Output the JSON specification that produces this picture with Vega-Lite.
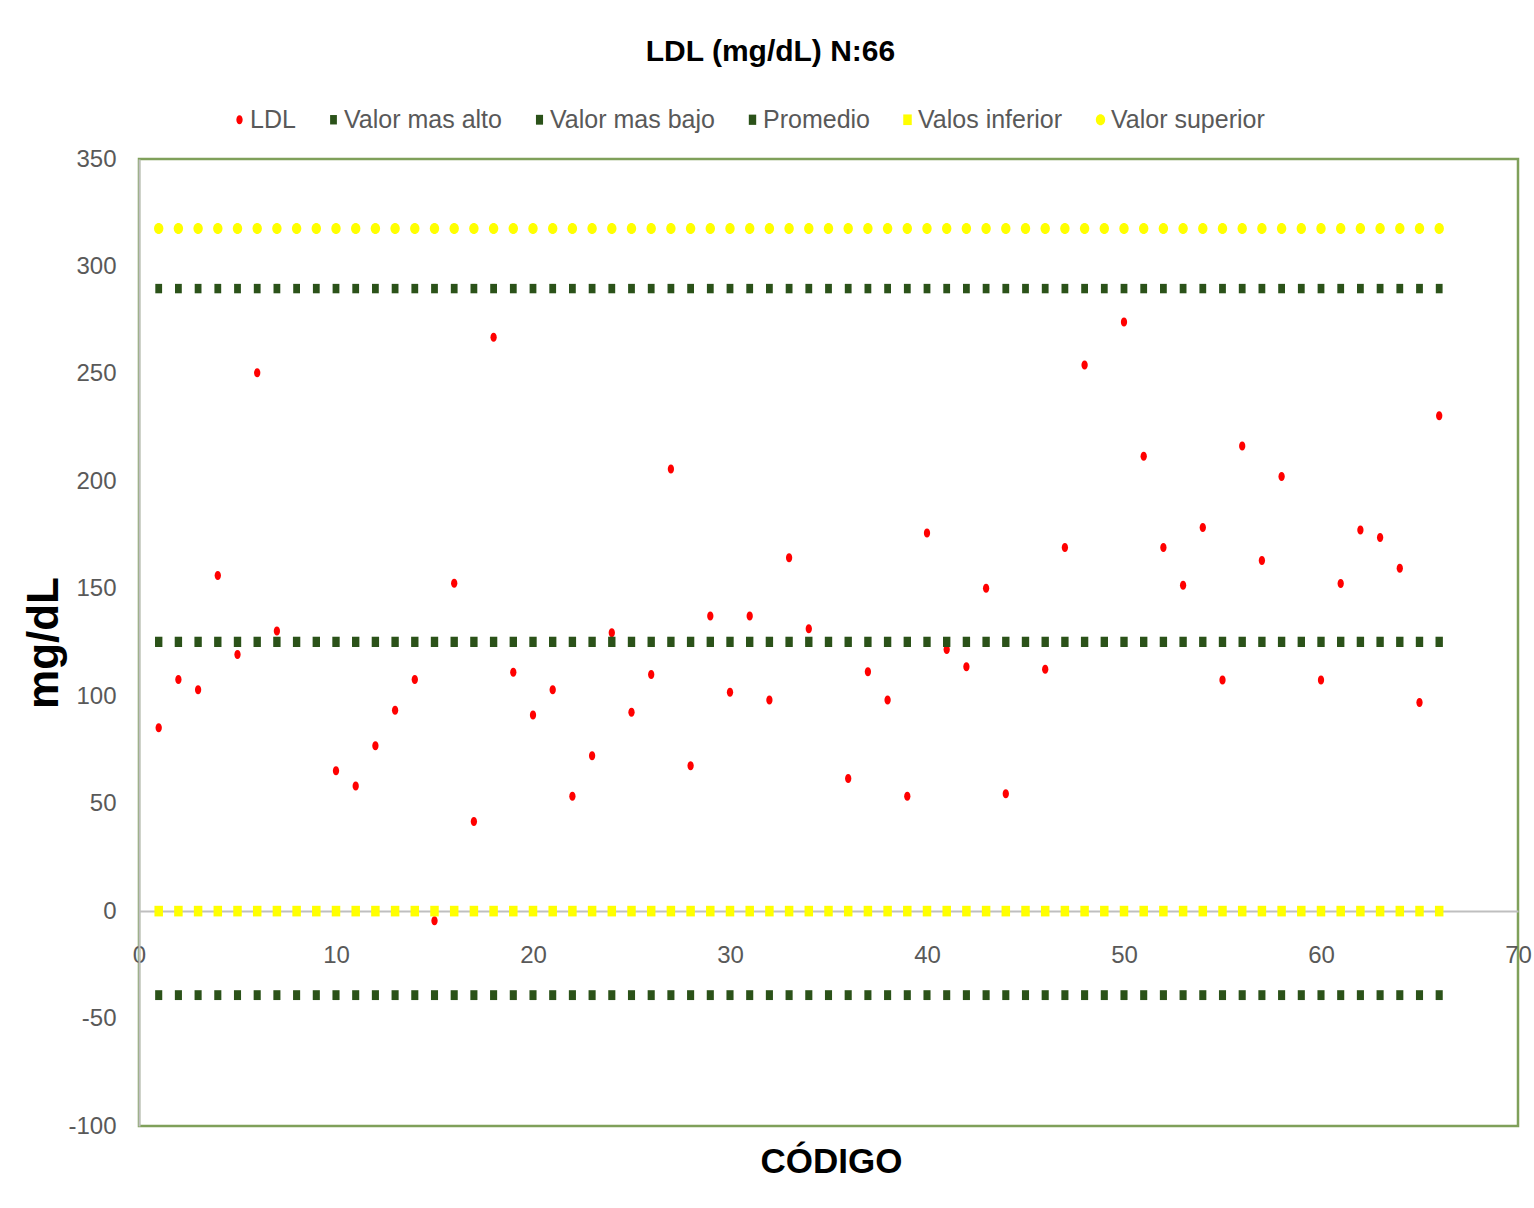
{
  "$schema": "https://vega.github.io/schema/vega-lite/v6.json",
  "width": 1379,
  "height": 967,
  "autosize": {"type": "none"},
  "padding": {"left": 139, "top": 159, "right": 16, "bottom": 82},
  "background": "white",
  "title": {
    "text": "LDL (mg/dL) N:66",
    "font": "Liberation Sans, Arial, sans-serif",
    "fontSize": 30,
    "fontWeight": "bold",
    "color": "#000000",
    "anchor": "middle",
    "frame": "group",
    "baseline": "bottom",
    "dx": -58,
    "offset": 10
  },
  "data": {
    "values": [
      {"codigo": 1, "LDL": 85.3, "Valor mas alto": 289.7, "Valor mas bajo": -39.1, "Promedio": 125.3, "Valos inferior": 0, "Valor superior": 317.7},
      {"codigo": 2, "LDL": 107.8, "Valor mas alto": 289.7, "Valor mas bajo": -39.1, "Promedio": 125.3, "Valos inferior": 0, "Valor superior": 317.7},
      {"codigo": 3, "LDL": 103.0, "Valor mas alto": 289.7, "Valor mas bajo": -39.1, "Promedio": 125.3, "Valos inferior": 0, "Valor superior": 317.7},
      {"codigo": 4, "LDL": 156.2, "Valor mas alto": 289.7, "Valor mas bajo": -39.1, "Promedio": 125.3, "Valos inferior": 0, "Valor superior": 317.7},
      {"codigo": 5, "LDL": 119.4, "Valor mas alto": 289.7, "Valor mas bajo": -39.1, "Promedio": 125.3, "Valos inferior": 0, "Valor superior": 317.7},
      {"codigo": 6, "LDL": 250.5, "Valor mas alto": 289.7, "Valor mas bajo": -39.1, "Promedio": 125.3, "Valos inferior": 0, "Valor superior": 317.7},
      {"codigo": 7, "LDL": 130.4, "Valor mas alto": 289.7, "Valor mas bajo": -39.1, "Promedio": 125.3, "Valos inferior": 0, "Valor superior": 317.7},
      {"codigo": 8, "LDL": null, "Valor mas alto": 289.7, "Valor mas bajo": -39.1, "Promedio": 125.3, "Valos inferior": 0, "Valor superior": 317.7},
      {"codigo": 9, "LDL": null, "Valor mas alto": 289.7, "Valor mas bajo": -39.1, "Promedio": 125.3, "Valos inferior": 0, "Valor superior": 317.7},
      {"codigo": 10, "LDL": 65.3, "Valor mas alto": 289.7, "Valor mas bajo": -39.1, "Promedio": 125.3, "Valos inferior": 0, "Valor superior": 317.7},
      {"codigo": 11, "LDL": 58.2, "Valor mas alto": 289.7, "Valor mas bajo": -39.1, "Promedio": 125.3, "Valos inferior": 0, "Valor superior": 317.7},
      {"codigo": 12, "LDL": 76.9, "Valor mas alto": 289.7, "Valor mas bajo": -39.1, "Promedio": 125.3, "Valos inferior": 0, "Valor superior": 317.7},
      {"codigo": 13, "LDL": 93.5, "Valor mas alto": 289.7, "Valor mas bajo": -39.1, "Promedio": 125.3, "Valos inferior": 0, "Valor superior": 317.7},
      {"codigo": 14, "LDL": 107.8, "Valor mas alto": 289.7, "Valor mas bajo": -39.1, "Promedio": 125.3, "Valos inferior": 0, "Valor superior": 317.7},
      {"codigo": 15, "LDL": -4.5, "Valor mas alto": 289.7, "Valor mas bajo": -39.1, "Promedio": 125.3, "Valos inferior": 0, "Valor superior": 317.7},
      {"codigo": 16, "LDL": 152.6, "Valor mas alto": 289.7, "Valor mas bajo": -39.1, "Promedio": 125.3, "Valos inferior": 0, "Valor superior": 317.7},
      {"codigo": 17, "LDL": 41.7, "Valor mas alto": 289.7, "Valor mas bajo": -39.1, "Promedio": 125.3, "Valos inferior": 0, "Valor superior": 317.7},
      {"codigo": 18, "LDL": 267.0, "Valor mas alto": 289.7, "Valor mas bajo": -39.1, "Promedio": 125.3, "Valos inferior": 0, "Valor superior": 317.7},
      {"codigo": 19, "LDL": 111.2, "Valor mas alto": 289.7, "Valor mas bajo": -39.1, "Promedio": 125.3, "Valos inferior": 0, "Valor superior": 317.7},
      {"codigo": 20, "LDL": 91.3, "Valor mas alto": 289.7, "Valor mas bajo": -39.1, "Promedio": 125.3, "Valos inferior": 0, "Valor superior": 317.7},
      {"codigo": 21, "LDL": 103.0, "Valor mas alto": 289.7, "Valor mas bajo": -39.1, "Promedio": 125.3, "Valos inferior": 0, "Valor superior": 317.7},
      {"codigo": 22, "LDL": 53.5, "Valor mas alto": 289.7, "Valor mas bajo": -39.1, "Promedio": 125.3, "Valos inferior": 0, "Valor superior": 317.7},
      {"codigo": 23, "LDL": 72.3, "Valor mas alto": 289.7, "Valor mas bajo": -39.1, "Promedio": 125.3, "Valos inferior": 0, "Valor superior": 317.7},
      {"codigo": 24, "LDL": 129.5, "Valor mas alto": 289.7, "Valor mas bajo": -39.1, "Promedio": 125.3, "Valos inferior": 0, "Valor superior": 317.7},
      {"codigo": 25, "LDL": 92.5, "Valor mas alto": 289.7, "Valor mas bajo": -39.1, "Promedio": 125.3, "Valos inferior": 0, "Valor superior": 317.7},
      {"codigo": 26, "LDL": 110.1, "Valor mas alto": 289.7, "Valor mas bajo": -39.1, "Promedio": 125.3, "Valos inferior": 0, "Valor superior": 317.7},
      {"codigo": 27, "LDL": 205.7, "Valor mas alto": 289.7, "Valor mas bajo": -39.1, "Promedio": 125.3, "Valos inferior": 0, "Valor superior": 317.7},
      {"codigo": 28, "LDL": 67.6, "Valor mas alto": 289.7, "Valor mas bajo": -39.1, "Promedio": 125.3, "Valos inferior": 0, "Valor superior": 317.7},
      {"codigo": 29, "LDL": 137.3, "Valor mas alto": 289.7, "Valor mas bajo": -39.1, "Promedio": 125.3, "Valos inferior": 0, "Valor superior": 317.7},
      {"codigo": 30, "LDL": 101.9, "Valor mas alto": 289.7, "Valor mas bajo": -39.1, "Promedio": 125.3, "Valos inferior": 0, "Valor superior": 317.7},
      {"codigo": 31, "LDL": 137.3, "Valor mas alto": 289.7, "Valor mas bajo": -39.1, "Promedio": 125.3, "Valos inferior": 0, "Valor superior": 317.7},
      {"codigo": 32, "LDL": 98.3, "Valor mas alto": 289.7, "Valor mas bajo": -39.1, "Promedio": 125.3, "Valos inferior": 0, "Valor superior": 317.7},
      {"codigo": 33, "LDL": 164.4, "Valor mas alto": 289.7, "Valor mas bajo": -39.1, "Promedio": 125.3, "Valos inferior": 0, "Valor superior": 317.7},
      {"codigo": 34, "LDL": 131.4, "Valor mas alto": 289.7, "Valor mas bajo": -39.1, "Promedio": 125.3, "Valos inferior": 0, "Valor superior": 317.7},
      {"codigo": 35, "LDL": null, "Valor mas alto": 289.7, "Valor mas bajo": -39.1, "Promedio": 125.3, "Valos inferior": 0, "Valor superior": 317.7},
      {"codigo": 36, "LDL": 61.7, "Valor mas alto": 289.7, "Valor mas bajo": -39.1, "Promedio": 125.3, "Valos inferior": 0, "Valor superior": 317.7},
      {"codigo": 37, "LDL": 111.4, "Valor mas alto": 289.7, "Valor mas bajo": -39.1, "Promedio": 125.3, "Valos inferior": 0, "Valor superior": 317.7},
      {"codigo": 38, "LDL": 98.3, "Valor mas alto": 289.7, "Valor mas bajo": -39.1, "Promedio": 125.3, "Valos inferior": 0, "Valor superior": 317.7},
      {"codigo": 39, "LDL": 53.5, "Valor mas alto": 289.7, "Valor mas bajo": -39.1, "Promedio": 125.3, "Valos inferior": 0, "Valor superior": 317.7},
      {"codigo": 40, "LDL": 176.0, "Valor mas alto": 289.7, "Valor mas bajo": -39.1, "Promedio": 125.3, "Valos inferior": 0, "Valor superior": 317.7},
      {"codigo": 41, "LDL": 121.8, "Valor mas alto": 289.7, "Valor mas bajo": -39.1, "Promedio": 125.3, "Valos inferior": 0, "Valor superior": 317.7},
      {"codigo": 42, "LDL": 113.7, "Valor mas alto": 289.7, "Valor mas bajo": -39.1, "Promedio": 125.3, "Valos inferior": 0, "Valor superior": 317.7},
      {"codigo": 43, "LDL": 150.3, "Valor mas alto": 289.7, "Valor mas bajo": -39.1, "Promedio": 125.3, "Valos inferior": 0, "Valor superior": 317.7},
      {"codigo": 44, "LDL": 54.6, "Valor mas alto": 289.7, "Valor mas bajo": -39.1, "Promedio": 125.3, "Valos inferior": 0, "Valor superior": 317.7},
      {"codigo": 45, "LDL": null, "Valor mas alto": 289.7, "Valor mas bajo": -39.1, "Promedio": 125.3, "Valos inferior": 0, "Valor superior": 317.7},
      {"codigo": 46, "LDL": 112.5, "Valor mas alto": 289.7, "Valor mas bajo": -39.1, "Promedio": 125.3, "Valos inferior": 0, "Valor superior": 317.7},
      {"codigo": 47, "LDL": 169.2, "Valor mas alto": 289.7, "Valor mas bajo": -39.1, "Promedio": 125.3, "Valos inferior": 0, "Valor superior": 317.7},
      {"codigo": 48, "LDL": 254.1, "Valor mas alto": 289.7, "Valor mas bajo": -39.1, "Promedio": 125.3, "Valos inferior": 0, "Valor superior": 317.7},
      {"codigo": 49, "LDL": null, "Valor mas alto": 289.7, "Valor mas bajo": -39.1, "Promedio": 125.3, "Valos inferior": 0, "Valor superior": 317.7},
      {"codigo": 50, "LDL": 274.1, "Valor mas alto": 289.7, "Valor mas bajo": -39.1, "Promedio": 125.3, "Valos inferior": 0, "Valor superior": 317.7},
      {"codigo": 51, "LDL": 211.7, "Valor mas alto": 289.7, "Valor mas bajo": -39.1, "Promedio": 125.3, "Valos inferior": 0, "Valor superior": 317.7},
      {"codigo": 52, "LDL": 169.2, "Valor mas alto": 289.7, "Valor mas bajo": -39.1, "Promedio": 125.3, "Valos inferior": 0, "Valor superior": 317.7},
      {"codigo": 53, "LDL": 151.6, "Valor mas alto": 289.7, "Valor mas bajo": -39.1, "Promedio": 125.3, "Valos inferior": 0, "Valor superior": 317.7},
      {"codigo": 54, "LDL": 178.5, "Valor mas alto": 289.7, "Valor mas bajo": -39.1, "Promedio": 125.3, "Valos inferior": 0, "Valor superior": 317.7},
      {"codigo": 55, "LDL": 107.6, "Valor mas alto": 289.7, "Valor mas bajo": -39.1, "Promedio": 125.3, "Valos inferior": 0, "Valor superior": 317.7},
      {"codigo": 56, "LDL": 216.4, "Valor mas alto": 289.7, "Valor mas bajo": -39.1, "Promedio": 125.3, "Valos inferior": 0, "Valor superior": 317.7},
      {"codigo": 57, "LDL": 163.2, "Valor mas alto": 289.7, "Valor mas bajo": -39.1, "Promedio": 125.3, "Valos inferior": 0, "Valor superior": 317.7},
      {"codigo": 58, "LDL": 202.3, "Valor mas alto": 289.7, "Valor mas bajo": -39.1, "Promedio": 125.3, "Valos inferior": 0, "Valor superior": 317.7},
      {"codigo": 59, "LDL": null, "Valor mas alto": 289.7, "Valor mas bajo": -39.1, "Promedio": 125.3, "Valos inferior": 0, "Valor superior": 317.7},
      {"codigo": 60, "LDL": 107.6, "Valor mas alto": 289.7, "Valor mas bajo": -39.1, "Promedio": 125.3, "Valos inferior": 0, "Valor superior": 317.7},
      {"codigo": 61, "LDL": 152.5, "Valor mas alto": 289.7, "Valor mas bajo": -39.1, "Promedio": 125.3, "Valos inferior": 0, "Valor superior": 317.7},
      {"codigo": 62, "LDL": 177.3, "Valor mas alto": 289.7, "Valor mas bajo": -39.1, "Promedio": 125.3, "Valos inferior": 0, "Valor superior": 317.7},
      {"codigo": 63, "LDL": 173.9, "Valor mas alto": 289.7, "Valor mas bajo": -39.1, "Promedio": 125.3, "Valos inferior": 0, "Valor superior": 317.7},
      {"codigo": 64, "LDL": 159.6, "Valor mas alto": 289.7, "Valor mas bajo": -39.1, "Promedio": 125.3, "Valos inferior": 0, "Valor superior": 317.7},
      {"codigo": 65, "LDL": 97.1, "Valor mas alto": 289.7, "Valor mas bajo": -39.1, "Promedio": 125.3, "Valos inferior": 0, "Valor superior": 317.7},
      {"codigo": 66, "LDL": 230.5, "Valor mas alto": 289.7, "Valor mas bajo": -39.1, "Promedio": 125.3, "Valos inferior": 0, "Valor superior": 317.7}
    ]
  },
  "transform": [
    {"fold": ["LDL", "Valor mas alto", "Valor mas bajo", "Promedio", "Valos inferior", "Valor superior"], "as": ["serie", "valor"]},
    {"filter": "isValid(datum.valor)"}
  ],
  "encoding": {
    "x": {
      "field": "codigo",
      "type": "quantitative",
      "scale": {"domain": [0, 70], "nice": false, "zero": false},
      "axis": {
        "values": [0, 10, 20, 30, 40, 50, 60, 70],
        "offset": -215,
        "ticks": false,
        "grid": false,
        "domainColor": "#BFBFBF",
        "domainWidth": 2,
        "labelFont": "Liberation Sans, Arial, sans-serif",
        "labelFontSize": 24,
        "labelColor": "#595959",
        "labelPadding": 32,
        "labelFlush": false,
        "labelOverlap": false,
        "title": "CÓDIGO",
        "titleFont": "Liberation Sans, Arial, sans-serif",
        "titleFontSize": 35,
        "titleFontWeight": "bold",
        "titleColor": "#000000",
        "titleBaseline": "alphabetic",
        "titleX": 692,
        "titleY": 261
      }
    },
    "y": {
      "field": "valor",
      "type": "quantitative",
      "scale": {"domain": [-100, 350], "nice": false, "zero": false},
      "axis": {
        "values": [-100, -50, 0, 50, 100, 150, 200, 250, 300, 350],
        "labelExpr": "'' + datum.value",
        "ticks": false,
        "grid": false,
        "domainColor": "#BFBFBF",
        "domainWidth": 2,
        "labelFont": "Liberation Sans, Arial, sans-serif",
        "labelFontSize": 24,
        "labelColor": "#595959",
        "labelPadding": 23,
        "title": "mg/dL",
        "titleFont": "Liberation Sans, Arial, sans-serif",
        "titleFontSize": 44,
        "titleFontWeight": "bold",
        "titleColor": "#000000",
        "titleBaseline": "bottom",
        "titleX": -73
      }
    },
    "color": {
      "field": "serie",
      "type": "nominal",
      "scale": {
        "domain": ["LDL", "Valor mas alto", "Valor mas bajo", "Promedio", "Valos inferior", "Valor superior"],
        "range": ["#FF0000", "#2B5219", "#2B5219", "#2B5219", "#FFFF00", "#FFFF00"]
      },
      "legend": {
        "title": null,
        "orient": "none",
        "direction": "horizontal",
        "columns": 6,
        "legendX": 88,
        "legendY": -52,
        "padding": 0,
        "columnPadding": 25,
        "labelOffset": -2,
        "labelLimit": 0,
        "symbolSize": 49,
        "symbolStrokeWidth": 0,
        "labelFont": "Liberation Sans, Arial, sans-serif",
        "labelFontSize": 25,
        "labelColor": "#595959"
      }
    },
    "shape": {
      "field": "serie",
      "type": "nominal",
      "scale": {
        "domain": ["LDL", "Valor mas alto", "Valor mas bajo", "Promedio", "Valos inferior", "Valor superior"],
        "range": [
          "M0,-1A0.7,1 0 1,1 0,1A0.7,1 0 1,1 0,-1Z",
          "M-0.72,-1H0.72V1H-0.72Z",
          "M-0.72,-1H0.72V1H-0.72Z",
          "M-0.72,-1H0.72V1H-0.72Z",
          "M-0.8,-1H0.8V1H-0.8Z",
          "M0,-1A0.85,1 0 1,1 0,1A0.85,1 0 1,1 0,-1Z"
        ]
      },
      "legend": {
        "title": null,
        "orient": "none",
        "direction": "horizontal",
        "columns": 6,
        "legendX": 88,
        "legendY": -52,
        "padding": 0,
        "columnPadding": 25,
        "labelOffset": -2,
        "labelLimit": 0,
        "symbolSize": 49,
        "symbolStrokeWidth": 0,
        "labelFont": "Liberation Sans, Arial, sans-serif",
        "labelFontSize": 25,
        "labelColor": "#595959"
      }
    },
    "size": {
      "field": "serie",
      "type": "nominal",
      "scale": {
        "domain": ["LDL", "Valor mas alto", "Valor mas bajo", "Promedio", "Valos inferior", "Valor superior"],
        "range": [81, 121, 121, 121, 110, 81]
      },
      "legend": null
    }
  },
  "layer": [
    {
      "transform": [{"filter": "datum.serie === 'LDL'"}],
      "mark": {"type": "point", "filled": true, "opacity": 1, "strokeWidth": 0}
    },
    {
      "transform": [{"filter": "datum.serie !== 'LDL'"}],
      "mark": {"type": "point", "filled": true, "opacity": 1, "strokeWidth": 0}
    }
  ],
  "config": {
    "view": {"stroke": "#7FA05A", "strokeWidth": 2.5},
    "axis": {"grid": false}
  }
}
